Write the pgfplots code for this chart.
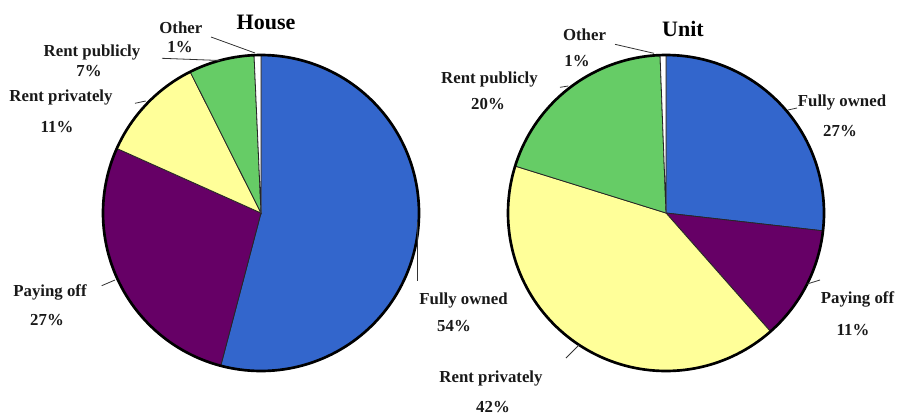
\documentclass[border=0pt]{standalone}
\usepackage{pgfplots}
\pgfplotsset{compat=1.18}
\usepackage{fontspec}
\setmainfont{Liberation Serif}
\definecolor{cBlue}{HTML}{3366CC}
\definecolor{cPurple}{HTML}{660066}
\definecolor{cYellow}{HTML}{FFFF99}
\definecolor{cGreen}{HTML}{66CC66}
\definecolor{cLead}{HTML}{333333}
% slice: cx, cy, cumulative start (%), cumulative end (%), colour
\newcommand{\pieslice}[5]{%
  \addplot[fill=#5, draw=black!85, line width=0.6pt, domain={90-3.6*#4}:{90-3.6*#3}, samples=80, variable=\t]
    ({#1+158*cos(\t)},{#2-158*sin(\t)}) -- (axis cs:#1,#2) -- cycle;
}
\newcommand{\pierim}[2]{%
  \addplot[black, line width=2pt, domain=0:360, samples=200, variable=\t]
    ({#1+158*cos(\t)},{#2-158*sin(\t)});
}
\newcommand{\lab}[3]{\node[font=\bfseries\fontsize{12.6}{14}\selectfont, anchor=base, text=black!90] at (axis cs:#1,#2) {#3};}
\begin{document}
\begin{tikzpicture}
\begin{axis}[x=0.75pt, y=0.75pt, xmin=0, xmax=897, ymin=0, ymax=415, y dir=reverse,
  hide axis, clip=false]
% ---------------- House: Fully owned 54.1, Paying off 27.6, Rent privately 10.9, Rent publicly 6.7, Other 0.7
\pieslice{261}{213}{0}{54.1}{cBlue}
\pieslice{261}{213}{54.1}{81.7}{cPurple}
\pieslice{261}{213}{81.7}{92.6}{cYellow}
\pieslice{261}{213}{92.6}{99.3}{cGreen}
\pieslice{261}{213}{99.3}{100}{white}
\pierim{261}{213}
% ---------------- Unit: Fully owned 26.8, Paying off 11.7, Rent privately 41.3, Rent publicly 19.6, Other 0.6
\pieslice{666}{213}{0}{26.8}{cBlue}
\pieslice{666}{213}{26.8}{38.5}{cPurple}
\pieslice{666}{213}{38.5}{79.8}{cYellow}
\pieslice{666}{213}{79.8}{99.4}{cGreen}
\pieslice{666}{213}{99.4}{100}{white}
\pierim{666}{213}
% leader lines
\addplot[cLead, line width=0.6pt] coordinates {(211,37) (255,53)};
\addplot[cLead, line width=0.6pt] coordinates {(162,58.3) (220,60.5)};
\addplot[cLead, line width=0.6pt] coordinates {(135,103.3) (145.7,101)};
\addplot[cLead, line width=0.6pt] coordinates {(101.7,285.7) (115,280)};
\addplot[cLead, line width=0.6pt] coordinates {(417.7,222) (417.7,280.5)};
\addplot[cLead, line width=0.6pt] coordinates {(615,44.3) (654,53.3)};
\addplot[cLead, line width=0.6pt] coordinates {(560,87.3) (568.3,86)};
\addplot[cLead, line width=0.6pt] coordinates {(788,110) (797,108)};
\addplot[cLead, line width=0.6pt] coordinates {(807,284) (820,280)};
\addplot[cLead, line width=0.6pt] coordinates {(566,358) (579,345)};
% titles
\node[font=\bfseries\fontsize{16.5}{19}\selectfont, anchor=base] at (axis cs:266,29.3) {House};
\node[font=\bfseries\fontsize{16.5}{19}\selectfont, anchor=base] at (axis cs:683,36.7) {Unit};
% House labels
\lab{180.8}{33.3}{Other}
\lab{180}{52.3}{1\%}
\lab{92}{56}{Rent publicly}
\lab{89}{76.7}{7\%}
\lab{61}{101.7}{Rent privately}
\lab{57}{132.7}{11\%}
\lab{50}{296}{Paying off}
\lab{47}{325}{27\%}
\lab{463.5}{304}{Fully owned}
\lab{454}{331}{54\%}
% Unit labels
\lab{584.5}{40.7}{Other}
\lab{577}{66.7}{1\%}
\lab{489.5}{83.3}{Rent publicly}
\lab{488}{109}{20\%}
\lab{491}{382.3}{Rent privately}
\lab{493}{412.5}{42\%}
\lab{842}{106.7}{Fully owned}
\lab{840}{136}{27\%}
\lab{857.5}{303.3}{Paying off}
\lab{853}{335}{11\%}
\end{axis}
\pgfresetboundingbox
\useasboundingbox (current axis.south west) rectangle (current axis.north east);
\end{tikzpicture}
\end{document}
